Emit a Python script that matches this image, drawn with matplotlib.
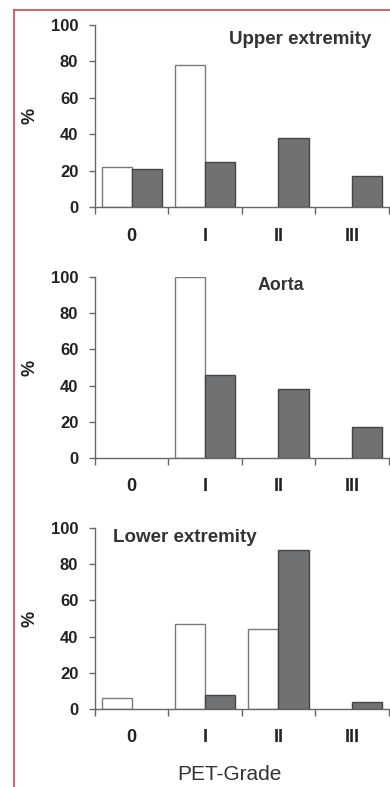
import numpy as np
import matplotlib
matplotlib.use("Agg")
import matplotlib.pyplot as plt
from matplotlib.lines import Line2D

plt.rcParams["font.family"] = ["Liberation Sans", "DejaVu Sans"]

# dados
grades = ["0", "I", "II", "III"]
titles = ["Upper extremity", "Aorta", "Lower extremity"]
upper_open = [22, 78, 0, 0]
upper_dark = [21, 25, 38, 17]
aorta_open = [0, 100, 0, 0]
aorta_dark = [0, 46, 38, 17]
lower_open = [6, 47, 44, 0]
lower_dark = [0, 8, 88, 4]
yticks = [0, 20, 40, 60, 80, 100]

W, H = 390, 787
fig = plt.figure(figsize=(W / 100, H / 100), dpi=100)

# moldura vermelha (parcialmente visivel)
fig.add_artist(Line2D([13.5 / W, 13.5 / W], [0, 1 - 10 / H], color="#d0454a", lw=1.2))
fig.add_artist(Line2D([13.5 / W, 1], [1 - 10 / H, 1 - 10 / H], color="#d0454a", lw=1.2))

# posicoes dos eixos em pixels (topo=100, base=0) e titulos
paineis = [
    (25, 207, upper_open, upper_dark, titles[0], (300, 39), 13.5),
    (277, 458, aorta_open, aorta_dark, titles[1], (281, 285), 12.8),
    (528, 709, lower_open, lower_dark, titles[2], (185, 537), 13.5),
]

x = np.arange(len(grades))
w = 0.41
txt = "#222222"
for top, base, op, dk, titulo, (tx, ty), fs in paineis:
    ax = fig.add_axes([95 / W, 1 - base / H, (388.5 - 95) / W, (base - top) / H])
    ax.bar(x - w / 2, op, w, color="white", edgecolor="#7a7a7a",
           linewidth=[1.0 if v > 0 else 0 for v in op])
    ax.bar(x + w / 2, dk, w, color="#707173", edgecolor="#454545",
           linewidth=[1.0 if v > 0 else 0 for v in dk])
    ax.set_xlim(-0.5, 3.5)
    ax.set_ylim(0, 100)
    ax.set_yticks(yticks)
    ax.set_yticklabels([str(v) for v in yticks], fontweight="bold", fontsize=12, color=txt)
    ax.set_xticks([-0.5, 0.5, 1.5, 2.5, 3.5])
    ax.set_xticklabels([])
    ax.tick_params(axis="x", direction="out", length=5, width=1, color="#666666")
    ax.tick_params(axis="y", direction="out", length=4, width=1, color="#666666", pad=8)
    for i, g in enumerate(grades):
        ax.text(i, -16, g, ha="center", va="center", fontsize=13, fontweight="bold",
                color=txt, clip_on=False)
    for s in ["top", "right"]:
        ax.spines[s].set_visible(False)
    for s in ["left", "bottom"]:
        ax.spines[s].set_color("#666666")
        ax.spines[s].set_linewidth(1.0)
    fig.text(30 / W, 1 - (top + base) / 2 / H, "%", rotation=90, ha="center", va="center",
             fontweight="bold", fontsize=13, color=txt)
    fig.text(tx / W, 1 - ty / H, titulo, ha="center", va="center", fontsize=fs,
             fontweight="bold", color="#333333")

fig.text(229 / W, 1 - 775 / H, "PET-Grade", ha="center", va="center", fontsize=15, color="#333333")

fig.savefig("out.png", dpi=100)
